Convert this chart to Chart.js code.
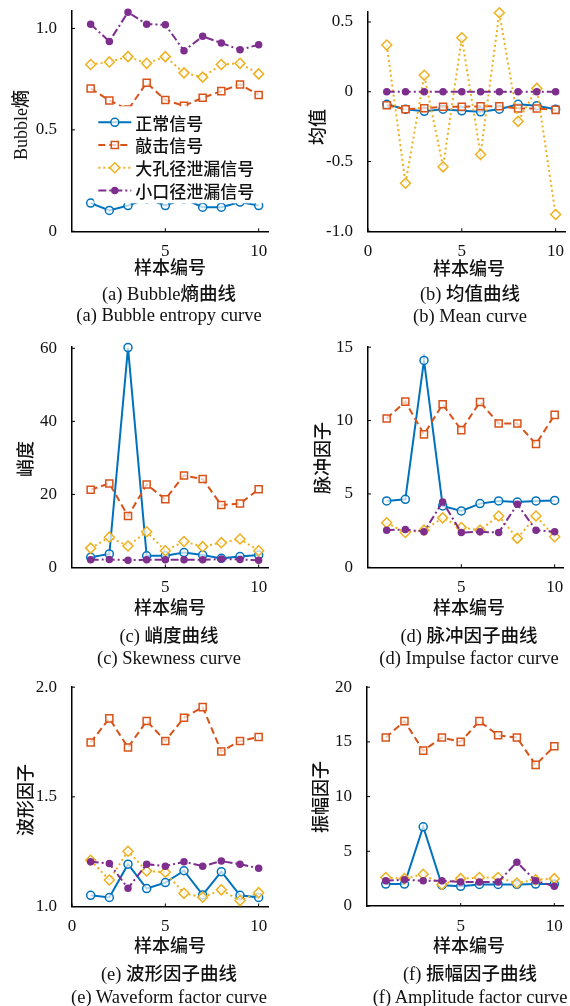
<!DOCTYPE html>
<html>
<head>
<meta charset="utf-8">
<script src="https://cdn.jsdelivr.net/npm/chart.js@4.4.0/dist/chart.umd.min.js"></script>
<style>
  html, body { margin: 0; padding: 0; background: #fff; }
  #page { position: relative; width: 570px; height: 1006px; overflow: hidden; background: #fff; }
  #page canvas { position: absolute; }
  .t { position: absolute; white-space: nowrap; color: #111; line-height: 1;
       font-family: "Liberation Serif", "Noto Sans CJK SC", serif; font-size: 18px;
       transform: translate(-50%, -50%); }
  .t .cjk { font-family: "Noto Sans CJK SC", sans-serif; font-weight: 500; }
  .yt { transform: translate(-50%, -50%) rotate(-90deg); }
</style>
</head>
<body>
<div id="page"></div>
<script>
// sample numbers and series names
const samples = [1, 2, 3, 4, 5, 6, 7, 8, 9, 10];
const seriesNames = ['正常信号', '敲击信号', '大孔径泄漏信号', '小口径泄漏信号'];

// (a) Bubble entropy
const entropyNormal = [0.139, 0.103, 0.127, 0.16, 0.127, 0.16, 0.119, 0.119, 0.144, 0.127];
const entropyKnock = [0.704, 0.645, 0.600, 0.732, 0.647, 0.619, 0.658, 0.691, 0.724, 0.672];
const entropyLarge = [0.822, 0.835, 0.861, 0.828, 0.861, 0.781, 0.760, 0.822, 0.828, 0.776];
const entropySmall = [1.021, 0.936, 1.080, 1.021, 1.018, 0.890, 0.961, 0.928, 0.895, 0.920];

// (b) mean
const meanNormal = [-0.09, -0.125, -0.14, -0.125, -0.137, -0.144, -0.125, -0.09, -0.10, -0.125];
const meanKnock = [-0.097, -0.125, -0.118, -0.108, -0.108, -0.104, -0.104, -0.12, -0.12, -0.13];
const meanLarge = [0.335, -0.656, 0.118, -0.538, 0.387, -0.450, 0.566, -0.212, 0.024, -0.880];
const meanSmall = [0, 0, 0, 0, 0, 0, 0, 0, 0, 0];

// (c) kurtosis
const kurtNormal = [2.8, 3.7, 60.2, 3.2, 3.2, 4.1, 3.4, 2.5, 3.0, 3.4];
const kurtKnock = [21.3, 23.0, 14.1, 22.7, 18.7, 25.2, 24.2, 17.1, 17.5, 21.4];
const kurtLarge = [5.3, 8.3, 5.9, 9.8, 4.6, 7.1, 5.7, 6.8, 7.8, 4.6];
const kurtSmall = [2.1, 2.2, 2.0, 2.1, 2.1, 2.1, 2.1, 2.3, 2.2, 2.0];

// (d) impulse factor
const impulseNormal = [4.52, 4.63, 14.1, 4.18, 3.84, 4.34, 4.52, 4.45, 4.52, 4.56];
const impulseKnock = [10.14, 11.29, 9.06, 11.11, 9.35, 11.27, 9.80, 9.80, 8.40, 10.39];
const impulseLarge = [3.03, 2.37, 2.53, 3.37, 2.71, 2.53, 3.50, 1.97, 3.50, 2.08];
const impulseSmall = [2.53, 2.58, 2.42, 4.45, 2.37, 2.42, 2.37, 4.29, 2.53, 2.42];

// (e) waveform factor
const waveNormal = [1.051, 1.041, 1.193, 1.082, 1.109, 1.163, 1.053, 1.159, 1.051, 1.041];
const waveKnock = [1.748, 1.858, 1.725, 1.846, 1.755, 1.861, 1.909, 1.707, 1.755, 1.773];
const waveLarge = [1.211, 1.121, 1.252, 1.162, 1.156, 1.060, 1.042, 1.076, 1.027, 1.063];
const waveSmall = [1.204, 1.196, 1.083, 1.193, 1.184, 1.204, 1.184, 1.207, 1.193, 1.174];

// (f) amplitude factor
const ampNormal = [2.0, 2.0, 7.24, 1.9, 1.8, 1.97, 1.97, 1.97, 2.0, 2.0];
const ampKnock = [15.4, 16.9, 14.2, 15.4, 15.0, 16.9, 15.6, 15.4, 12.9, 14.6];
const ampLarge = [2.6, 2.5, 2.9, 1.97, 2.5, 2.6, 2.6, 2.1, 2.4, 2.5];
const ampSmall = [2.3, 2.4, 2.3, 2.3, 2.2, 2.2, 2.2, 4.0, 2.3, 1.8];

// tick values and labels
const entropyYTicks = [0, 0.5, 1.0];
const entropyYLabels = ['0', '0.5', '1.0'];
const meanYTicks = [-1, -0.5, 0, 0.5];
const meanYLabels = ['-1.0', '-0.5', '0', '0.5'];
const kurtYTicks = [0, 20, 40, 60];
const kurtYLabels = ['0', '20', '40', '60'];
const impulseYTicks = [0, 5, 10, 15];
const impulseYLabels = ['0', '5', '10', '15'];
const waveYTicks = [1, 1.5, 2];
const waveYLabels = ['1.0', '1.5', '2.0'];
const ampYTicks = [0, 5, 10, 15, 20];
const ampYLabels = ['0', '5', '10', '15', '20'];
const xTicksShort = [5, 10];
const xTicksLong = [0, 5, 10];

const colors = ['#0072BD', '#D95319', '#EDB120', '#7E2F8E'];
const styles = [
  { dash: [], point: 'circle', r: 4, fill: 'rgba(255,255,255,0.7)', order: 4 },
  { dash: [7, 4], point: 'rect', r: 5, fill: 'rgba(255,255,255,0.7)', order: 3 },
  { dash: [2, 3], point: 'rectRot', r: 5, fill: 'rgba(255,255,255,0.7)', order: 2 },
  { dash: [8, 3, 2, 3], point: 'circle', r: 3, fill: null, order: 1 }
];

// page positions of each plot area
const panels = [
  { series: [entropyNormal, entropyKnock, entropyLarge, entropySmall], left: 71.7, right: 267.7, top: 9.7, bottom: 231,
    yMin: 0, yMax: 1.085, yTicks: entropyYTicks, yLabels: entropyYLabels, xTicks: xTicksShort, legend: true,
    yTitle: 'Bubble熵', yTitlePos: [20, 125], xTitlePos: [170, 267],
    cap1: '(a) Bubble熵曲线', cap2: '(a) Bubble entropy curve', capX: 169, capY: [293, 315] },
  { series: [meanNormal, meanKnock, meanLarge, meanSmall], left: 367.5, right: 564.5, top: 10.7, bottom: 231,
    yMin: -1, yMax: 0.57, yTicks: meanYTicks, yLabels: meanYLabels, xTicks: xTicksLong,
    yTitle: '均值', yTitlePos: [317, 127], xTitlePos: [469, 268],
    cap1: '(b) 均值曲线', cap2: '(b) Mean curve', capX: 470, capY: [293, 316] },
  { series: [kurtNormal, kurtKnock, kurtLarge, kurtSmall], left: 71.7, right: 267.7, top: 346.2, bottom: 567.7,
    yMin: 0, yMax: 60.3, yTicks: kurtYTicks, yLabels: kurtYLabels, xTicks: xTicksShort,
    yTitle: '峭度', yTitlePos: [25, 459], xTitlePos: [170, 607],
    cap1: '(c) 峭度曲线', cap2: '(c) Skewness curve', capX: 169, capY: [635, 658] },
  { series: [impulseNormal, impulseKnock, impulseLarge, impulseSmall], left: 368.3, right: 564.3, top: 346, bottom: 567.3,
    yMin: 0, yMax: 15, yTicks: impulseYTicks, yLabels: impulseYLabels, xTicks: xTicksShort,
    yTitle: '脉冲因子', yTitlePos: [322, 458], xTitlePos: [469, 607],
    cap1: '(d) 脉冲因子曲线', cap2: '(d) Impulse factor curve', capX: 469, capY: [635, 658] },
  { series: [waveNormal, waveKnock, waveLarge, waveSmall], left: 71.7, right: 267.7, top: 686, bottom: 906.5,
    yMin: 1, yMax: 2, yTicks: waveYTicks, yLabels: waveYLabels, xTicks: xTicksLong,
    yTitle: '波形因子', yTitlePos: [25, 800], xTitlePos: [170, 945],
    cap1: '(e) 波形因子曲线', cap2: '(e) Waveform factor curve', capX: 169, capY: [973, 997] },
  { series: [ampNormal, ampKnock, ampLarge, ampSmall], left: 367.3, right: 564, top: 686, bottom: 906,
    yMin: 0, yMax: 20, yTicks: ampYTicks, yLabels: ampYLabels, xTicks: xTicksShort,
    yTitle: '振幅因子', yTitlePos: [320, 797], xTitlePos: [469, 945],
    cap1: '(f) 振幅因子曲线', cap2: '(f) Amplitude factor curve', capX: 470, capY: [973, 997] }
];

const page = document.getElementById('page');

function addText(txt, x, y, cls, size) {
  const d = document.createElement('div');
  d.className = 't' + (cls ? ' ' + cls : '');
  // wrap the Chinese characters so they get the CJK font
  txt.split(/([\u4e00-\u9fff]+)/).forEach(part => {
    if (!part) return;
    if (/[\u4e00-\u9fff]/.test(part)) {
      const s = document.createElement('span');
      s.className = 'cjk';
      s.textContent = part;
      d.appendChild(s);
    } else {
      d.appendChild(document.createTextNode(part));
    }
  });
  d.style.left = x + 'px';
  d.style.top = y + 'px';
  if (size) d.style.fontSize = size + 'px';
  page.appendChild(d);
}

// inward tick marks like the original figure
const inTicks = {
  id: 'inTicks',
  afterDraw(chart) {
    const { ctx, chartArea: a, scales } = chart;
    ctx.save();
    ctx.strokeStyle = '#000';
    ctx.lineWidth = 1;
    scales.x.ticks.forEach(t => {
      const px = scales.x.getPixelForValue(t.value);
      ctx.beginPath(); ctx.moveTo(px, a.bottom); ctx.lineTo(px, a.bottom - 3); ctx.stroke();
    });
    scales.y.ticks.forEach(t => {
      const py = scales.y.getPixelForValue(t.value);
      ctx.beginPath(); ctx.moveTo(a.left, py); ctx.lineTo(a.left + 3, py); ctx.stroke();
    });
    ctx.restore();
  }
};

function drawMarker(ctx, i, x, y) {
  const s = styles[i];
  ctx.save();
  ctx.setLineDash([]);
  ctx.lineWidth = 1.5;
  ctx.strokeStyle = colors[i];
  ctx.fillStyle = s.fill || colors[i];
  ctx.beginPath();
  if (s.point === 'circle') ctx.arc(x, y, s.r, 0, Math.PI * 2);
  else if (s.point === 'rect') { const h = s.r * Math.SQRT1_2; ctx.rect(x - h, y - h, 2 * h, 2 * h); }
  else { ctx.moveTo(x, y - s.r); ctx.lineTo(x + s.r, y); ctx.lineTo(x, y + s.r); ctx.lineTo(x - s.r, y); ctx.closePath(); }
  ctx.fill(); ctx.stroke();
  ctx.restore();
}

// legend box drawn inside panel (a), covering the lines below it
const boxLegend = {
  id: 'boxLegend',
  afterDatasetsDraw(chart, args, opts) {
    if (!opts.show) return;
    const ctx = chart.ctx;
    const ox = opts.originX, oy = opts.originY;
    ctx.save();
    ctx.fillStyle = '#fff';
    ctx.fillRect(94 - ox, 106 - oy, 168, 97);
    seriesNames.forEach((name, i) => {
      const y = 122 + i * 22.7 - oy;
      ctx.save();
      ctx.strokeStyle = colors[i];
      ctx.lineWidth = 2;
      ctx.setLineDash(styles[i].dash);
      ctx.beginPath(); ctx.moveTo(98 - ox, y); ctx.lineTo(131 - ox, y); ctx.stroke();
      ctx.restore();
      drawMarker(ctx, i, 114.5 - ox, y);
      ctx.fillStyle = '#111';
      ctx.font = '500 17px "Noto Sans CJK SC"';
      ctx.textBaseline = 'middle';
      ctx.textAlign = 'left';
      ctx.fillText(name, 135 - ox, y + 1);
    });
    ctx.restore();
  }
};

panels.forEach(p => {
  const padL = 60, padT = 16, padR = 16, padB = 30;
  const cx = p.left - padL, cy = p.top - padT;
  const w = Math.round(p.right - p.left + padL + padR);
  const h = Math.round(p.bottom - p.top + padT + padB);
  const canvas = document.createElement('canvas');
  canvas.width = w; canvas.height = h;
  canvas.style.left = cx + 'px'; canvas.style.top = cy + 'px';
  canvas.style.width = w + 'px'; canvas.style.height = h + 'px';
  page.appendChild(canvas);

  const datasets = p.series.map((vals, i) => ({
    label: seriesNames[i],
    data: samples.map((s, k) => ({ x: s, y: vals[k] })),
    borderColor: colors[i],
    borderWidth: 2,
    borderDash: styles[i].dash,
    pointStyle: styles[i].point,
    pointRadius: styles[i].r,
    pointBorderWidth: 1.5,
    pointBorderColor: colors[i],
    pointBackgroundColor: styles[i].fill || colors[i],
    tension: 0,
    clip: false,
    order: styles[i].order
  }));

  const tickFont = { family: '"Liberation Serif"', size: 17 };

  new Chart(canvas, {
    type: 'line',
    data: { datasets },
    options: {
      responsive: false,
      animation: false,
      devicePixelRatio: 1,
      layout: { padding: { left: 0, top: padT, right: w - padL - (p.right - p.left), bottom: 0 } },
      plugins: {
        legend: { display: false },
        tooltip: { enabled: false },
        boxLegend: { show: !!p.legend, originX: cx, originY: cy }
      },
      scales: {
        x: {
          type: 'linear', min: 0, max: 10.5,
          afterBuildTicks: s => { s.ticks = p.xTicks.map(v => ({ value: v })); },
          afterFit: s => { s.height = h - padT - (p.bottom - p.top); },
          grid: { display: false },
          border: { display: true, color: '#000', width: 1.5 },
          ticks: { font: tickFont, color: '#111', padding: 2, maxRotation: 0, autoSkip: false,
                   callback: v => String(v) }
        },
        y: {
          type: 'linear', min: p.yMin, max: p.yMax,
          afterBuildTicks: s => { s.ticks = p.yTicks.map(v => ({ value: v })); },
          afterFit: s => { s.width = padL; },
          grid: { display: false },
          border: { display: true, color: '#000', width: 1.5 },
          ticks: { font: tickFont, color: '#111', padding: 7, autoSkip: false,
                   callback: (v, idx) => p.yLabels[idx] }
        }
      }
    },
    plugins: [inTicks, boxLegend]
  });

  addText(p.yTitle, p.yTitlePos[0], p.yTitlePos[1], 'yt', 18);
  addText('样本编号', p.xTitlePos[0], p.xTitlePos[1], '', 18);
  addText(p.cap1, p.capX, p.capY[0], '', 18.5);
  addText(p.cap2, p.capX, p.capY[1], '', 18.5);
});
</script>
</body>
</html>
